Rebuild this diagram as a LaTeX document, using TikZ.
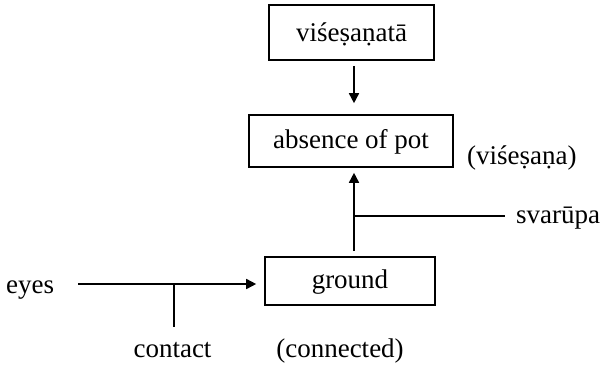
\documentclass[tikz,border=0pt]{standalone}
\usepackage{fontspec}
\setmainfont{Liberation Serif}
\usetikzlibrary{arrows.meta}
\begin{document}
\begin{tikzpicture}[x=1pt,y=-1pt,
  box/.style={draw,line width=1.6pt,inner sep=0pt},
  lbl/.style={font=\fontsize{27}{30}\selectfont,inner sep=0pt},
  conn/.style={line width=1.6pt},
  arr/.style={conn,-{Triangle[length=10pt,width=10pt]}}]
\useasboundingbox (0,0) rectangle (600,367);
\node[box,lbl,minimum width=165pt,minimum height=55pt,text height=22pt,text depth=4pt] (top) at (351.5,32.5) {viśeṣaṇatā};
\node[box,lbl,minimum width=204pt,minimum height=52pt,text height=18pt,text depth=4pt] (mid) at (351,141) {absence of pot};
\node[box,lbl,minimum width=170pt,minimum height=48pt,text height=18pt,text depth=4pt] (gnd) at (350,281) {ground};
\node[lbl,anchor=base west] (eyes) at (6,293) {eyes};
\node[lbl,anchor=base] (contact) at (172.5,357) {contact};
\node[lbl,anchor=base] (conn) at (340,357) {(connected)};
\node[lbl,anchor=base west] (vis) at (467,164) {(viśeṣaṇa)};
\node[lbl,anchor=base west] (svr) at (516,223) {svarūpa};
\coordinate (eyesend) at (78,284);
\coordinate (cj) at (174,284);
\coordinate (cend) at (174,327);
\coordinate (sj) at (354,216);
\coordinate (send) at (505,216);
\draw[arr,shorten <=5pt,shorten >=11pt] (top.south -| sj) -- (mid.north -| sj);
\draw[arr,shorten <=5pt,shorten >=5pt] (gnd.north -| sj) -- (mid.south -| sj);
\draw[arr,shorten >=8pt] (eyesend) -- (eyesend -| gnd.west);
\draw[conn] (cj) -- (cend);
\draw[conn] (sj) -- (send);
\end{tikzpicture}
\end{document}
